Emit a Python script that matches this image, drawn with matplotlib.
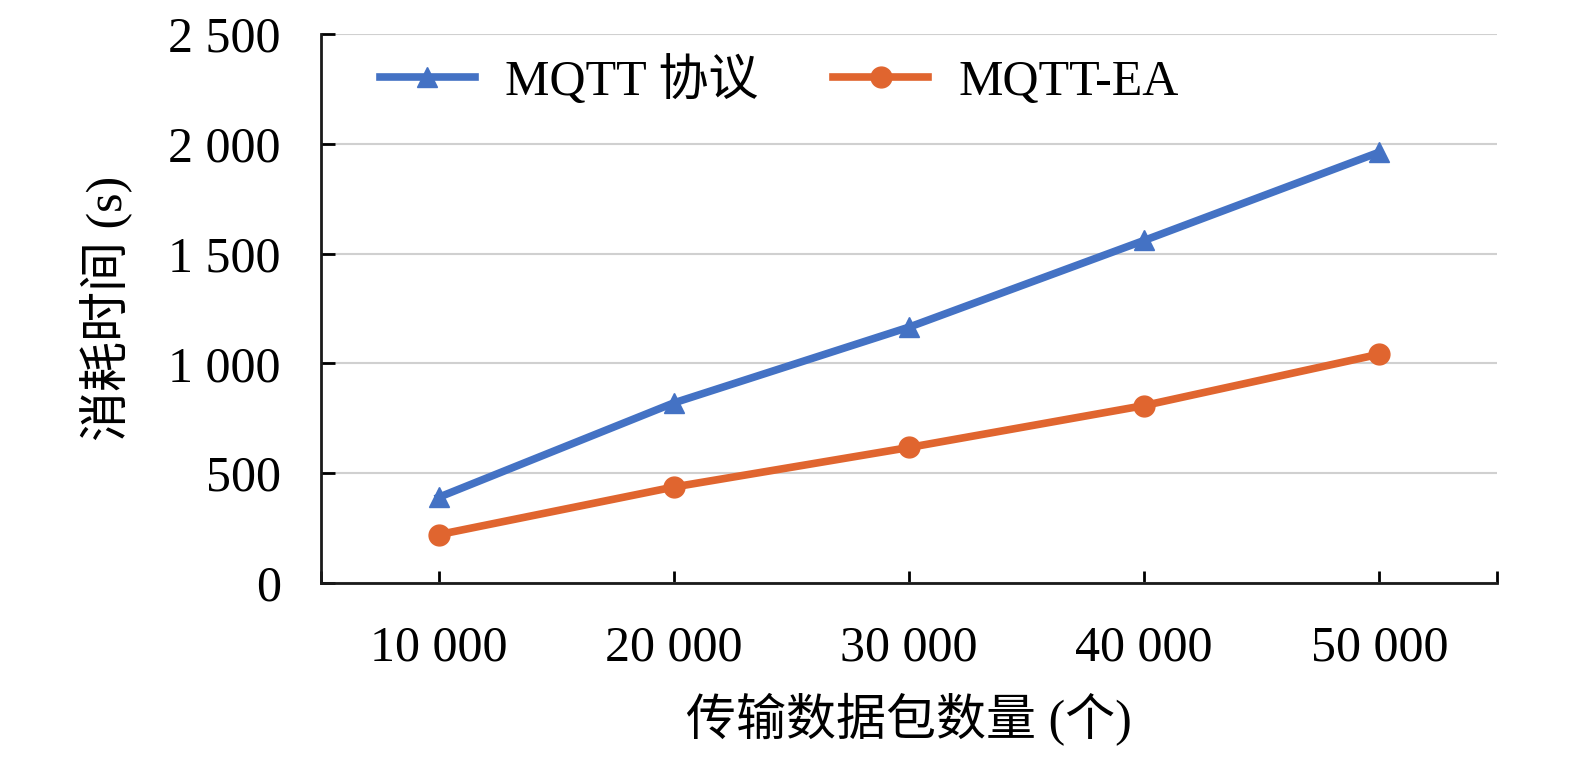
import matplotlib
matplotlib.use("Agg")
import matplotlib.pyplot as plt

plt.rcParams['font.family'] = ['Liberation Serif', 'Noto Sans CJK SC', 'DejaVu Sans']

packets = ["10 000", "20 000", "30 000", "40 000", "50 000"]
mqtt = [390, 820, 1165, 1560, 1962]
mqtt_ea = [220, 437, 617, 808, 1042]
y_ticks = [0, 500, 1000, 1500, 2000, 2500]
y_labels = ["0", "500", "1 000", "1 500", "2 000", "2 500"]

fig = plt.figure(figsize=(15.75, 7.67), dpi=100)
ax = fig.add_axes([0.2038, 0.2399, 0.7467, 0.7158])

x = list(range(len(packets)))
ax.plot(x, mqtt, color="#4472C4", lw=5.5, marker="^", ms=15, label="MQTT 协议")
ax.plot(x, mqtt_ea, color="#E0652F", lw=5.5, marker="o", ms=15, label="MQTT-EA")

ax.set_xlim(-0.5, 4.5)
ax.set_ylim(0, 2500)
ax.set_yticks(y_ticks)
ax.set_yticklabels(y_labels)
ax.set_xticks(x)
ax.set_xticklabels(packets)
ax.set_xticks([-0.5, 4.5], minor=True)

ax.grid(axis="y", color="#d0d0d0", lw=1.5)
ax.set_axisbelow(True)
for s in ["top", "right"]:
    ax.spines[s].set_visible(False)
for s in ["left", "bottom"]:
    ax.spines[s].set_linewidth(2)
    ax.spines[s].set_color("#1a1a1a")

ax.tick_params(axis="y", direction="in", length=10, width=2, labelsize=36, pad=29)
ax.tick_params(axis="x", direction="in", length=9, width=2, labelsize=36, pad=30)
ax.tick_params(axis="x", which="minor", direction="in", length=9, width=2)

ax.set_xlabel("传输数据包数量 (个)", fontsize=36)
ax.set_ylabel("消耗时间 (s)", fontsize=36)
ax.xaxis.set_label_coords(0.5, -0.2)
ax.yaxis.set_label_coords(-0.16, 0.5)

ax.legend(loc="upper left", ncol=2, frameon=False, fontsize=36,
          bbox_to_anchor=(0.05, 0.96), borderaxespad=0, borderpad=0,
          handlelength=1.9, columnspacing=1.5, handletextpad=0.6)

fig.savefig("out.png", dpi=100)
